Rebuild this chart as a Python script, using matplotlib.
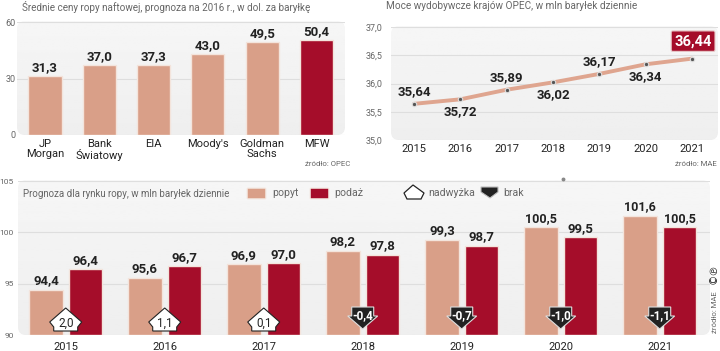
import matplotlib
matplotlib.use("Agg")
import matplotlib.pyplot as plt
import numpy as np
from matplotlib.patches import FancyBboxPatch, Polygon

W, H = 720, 351

# ceny ropy
banks = ["JP\nMorgan", "Bank\nŚwiatowy", "EIA", "Moody's", "Goldman\nSachs", "MFW"]
prices = [31.3, 37.0, 37.3, 43.0, 49.5, 50.4]

# moce wydobywcze OPEC
years_opec = [2015, 2016, 2017, 2018, 2019, 2020, 2021]
capacity = [35.64, 35.72, 35.89, 36.02, 36.17, 36.34, 36.44]

# rynek ropy
years = ["2015", "2016", "2017", "2018", "2019", "2020", "2021"]
demand = [94.4, 95.6, 96.9, 98.2, 99.3, 100.5, 101.6]
supply = [96.4, 96.7, 97.0, 97.8, 98.7, 99.5, 100.5]
balance = [2.0, 1.1, 0.1, -0.4, -0.7, -1.0, -1.1]

SALMON = "#d99f88"
RED = "#a50d2a"
GREY = "#666666"
DARK = "#222222"
EDGE = "#f3e4dc"

plt.rcParams["font.family"] = ["Roboto", "DejaVu Sans"]

fig = plt.figure(figsize=(W / 100, H / 100), dpi=100)
fig.patch.set_facecolor("white")

bg = fig.add_axes([0, 0, 1, 1], zorder=0)
top = fig.add_axes([0, 0, 1, 1], zorder=10)
for a in (bg, top):
    a.set_xlim(0, W)
    a.set_ylim(H, 0)
    a.axis("off")
    a.patch.set_alpha(0)


def comma(v, digits=1):
    return f"{v:.{digits}f}".replace(".", ",")


def axes_px(x0, y0, x1, y1):
    # pixel box, y counted from the top of the picture
    ax = fig.add_axes([x0 / W, 1 - y1 / H, (x1 - x0) / W, (y1 - y0) / H], zorder=5)
    ax.patch.set_alpha(0)
    for s in ax.spines.values():
        s.set_visible(False)
    ax.tick_params(length=0)
    ax.grid(axis="y", color="#dedede", lw=0.8)
    ax.set_axisbelow(True)
    return ax


def panel(x0, y0, x1, y1):
    # rounded grey background, a little lighter at the top
    grad = np.linspace(0.965, 0.935, 64).reshape(-1, 1)
    im = bg.imshow(grad, extent=[x0, x1, y1, y0], aspect="auto", cmap="gray",
                   vmin=0, vmax=1, origin="upper")
    box = FancyBboxPatch((x0 + 8, y0 + 8), x1 - x0 - 16, y1 - y0 - 16,
                         boxstyle="round,pad=8,rounding_size=8",
                         fc="none", ec="none")
    bg.add_patch(box)
    im.set_clip_path(box)
    bg.set_xlim(0, W)
    bg.set_ylim(H, 0)


def bold_label(ax, x, v, text, size=9.5, px=8.5):
    ax.annotate(text, (x, v), xytext=(0, px * 0.72), textcoords="offset points",
                ha="center", va="center", fontsize=size, fontweight="bold",
                color=DARK, zorder=5)


panel(17, 21, 345, 135)
panel(391, 26, 718, 140)
panel(18, 180, 710, 335)

# lewy gorny
ax1 = axes_px(17, 22, 345, 135)
x1 = np.arange(len(banks))
ax1.bar(x1, prices, 0.61, color=[SALMON] * 5 + [RED], edgecolor=EDGE, linewidth=1.0, zorder=2)
ax1.set_xlim(-0.516, 5.525)
ax1.set_ylim(0, 60)
ax1.set_yticks([0, 30, 60])
ax1.tick_params(axis="y", labelsize=6.5, labelcolor=GREY, pad=1)
ax1.set_xticks(x1, banks, linespacing=1.0)
ax1.tick_params(axis="x", labelsize=8, labelcolor=DARK, pad=3)
for x, v in zip(x1, prices):
    bold_label(ax1, x, v, comma(v))

# prawy gorny
ax2 = axes_px(391, 27, 718, 140)
ax2.plot(years_opec, capacity, color="#dfa58f", lw=2.8, zorder=2, solid_capstyle="round")
ax2.plot(years_opec, capacity, ls="none", marker="o", ms=3.2, mfc="#555555", mec="#dddddd", mew=0.8, zorder=3)
ax2.set_xlim(2015 - 23 / 46.3, 2021 + 26 / 46.3)
ax2.set_ylim(35, 37)
ax2.set_yticks([35, 35.5, 36, 36.5, 37], ["35,0", "35,5", "36,0", "36,5", "37,0"])
ax2.tick_params(axis="y", labelsize=6.5, labelcolor=GREY, pad=6)
ax2.set_xticks(years_opec)
ax2.tick_params(axis="x", labelsize=8, labelcolor=DARK, pad=3)
for i, (yr, v) in enumerate(zip(years_opec[:-1], capacity[:-1])):
    bold_label(ax2, yr, v, comma(v, 2), px=12 if i % 2 == 0 else -12)
ax2.annotate(comma(capacity[-1], 2), (years_opec[-1], capacity[-1]), xytext=(0.8, 17.5 * 0.72),
             textcoords="offset points", ha="center", va="center", fontsize=10.5,
             fontweight="bold", color="white", zorder=5,
             bbox=dict(boxstyle="round,pad=0.22,rounding_size=0.1", fc=RED, ec="#e8c8c8", lw=0.8))

# dolny
ax3 = axes_px(18, 181, 710, 335)
x3 = np.arange(len(years))
bw = 0.343
gap = 0.2
ax3.bar(x3 - gap, np.array(demand) - 90, bw, bottom=90, color=SALMON, edgecolor=EDGE, linewidth=1.0, zorder=2)
ax3.bar(x3 + gap, np.array(supply) - 90, bw, bottom=90, color=RED, edgecolor=EDGE, linewidth=1.0, zorder=2)
ax3.set_xlim(-0.482, 6.508)
ax3.set_ylim(90, 105)
ax3.set_yticks([90, 95, 100, 105])
ax3.tick_params(axis="y", labelsize=6, labelcolor=GREY, pad=3)
ax3.set_xticks(x3, years)
ax3.tick_params(axis="x", labelsize=8, labelcolor=DARK, pad=5)
for x, d, s in zip(x3, demand, supply):
    bold_label(ax3, x - gap, d, comma(d), size=9 if d >= 100 else 9.5, px=9)
    bold_label(ax3, x + gap, s, comma(s), size=9 if s >= 100 else 9.5, px=9)

# domki nadwyzka / brak
HOUSE_UP = [(0, -14), (16, 0), (12, 5), (12, 9), (-12, 9), (-12, 5), (-16, 0)]
HOUSE_DOWN = [(-11, -15), (11, -15), (11, -6), (15, -6), (0, 7), (-15, -6), (-11, -6)]
for x, b in zip(x3, balance):
    cx = ax3.transData.transform((x, 90))[0]
    if b > 0:
        pts = [(cx + a, 322 + c) for a, c in HOUSE_UP]
        top.add_patch(Polygon(pts, closed=True, fc="white", ec=DARK, lw=0.8, zorder=6))
        top.text(cx, 323, comma(b), ha="center", va="center", fontsize=8.5, color=DARK, zorder=7)
    else:
        pts = [(cx + a, 322 + c) for a, c in HOUSE_DOWN]
        top.add_patch(Polygon(pts, closed=True, fc=DARK, ec="#dddddd", lw=0.8, zorder=6))
        top.text(cx, 316, comma(b), ha="center", va="center", fontsize=8.5, fontweight="bold",
                 color="white", zorder=7)

# legenda
top.add_patch(FancyBboxPatch((248, 189), 17, 9, boxstyle="round,pad=0.8", fc=SALMON, ec=EDGE, lw=0.8))
top.text(272, 193.5, "popyt", fontsize=7.6, color=GREY, va="center")
top.add_patch(FancyBboxPatch((311, 189), 17, 9, boxstyle="round,pad=0.8", fc=RED, ec=EDGE, lw=0.8))
top.text(334, 193.5, "podaż", fontsize=7.6, color=GREY, va="center")
top.add_patch(Polygon([(404, 193), (413, 185), (424, 193), (421, 199), (407, 199)],
                      closed=True, fc="white", ec=DARK, lw=0.9))
top.text(428, 193, "nadwyżka", fontsize=7.6, color=GREY, va="center")
top.add_patch(Polygon([(481, 187), (498, 187), (498, 192), (490, 198), (481, 192)],
                      closed=True, fc=DARK, ec="#bbbbbb", lw=0.8))
top.text(503, 193, "brak", fontsize=7.6, color=GREY, va="center")

# tytuly i zrodla
top.text(22, 7, "Średnie ceny ropy naftowej, prognoza na 2016 r., w dol. za baryłkę",
         fontsize=7.15, color=GREY, va="center")
top.text(386, 6, "Moce wydobywcze krajów OPEC, w mln baryłek dziennie",
         fontsize=7.2, color=GREY, va="center")
top.text(23, 194, "Prognoza dla rynku ropy, w mln baryłek dziennie", fontsize=7.0, color=GREY, va="center")
top.text(350, 164, "źródło: OPEC", fontsize=5.6, color=GREY, ha="right", va="center")
top.text(717, 164, "źródło: MAE", fontsize=5.6, color=GREY, ha="right", va="center")
top.text(715, 312, "źródło: MAE", fontsize=5.6, color=GREY, rotation=90, ha="center", va="center")
top.text(714, 274, "©℗", fontsize=7.5, color=DARK, rotation=90, ha="center", va="center",
         family=["DejaVu Sans"])
top.plot([563], [179], marker="o", ms=1.8, color="#888888")

fig.savefig("out.png", dpi=100)
